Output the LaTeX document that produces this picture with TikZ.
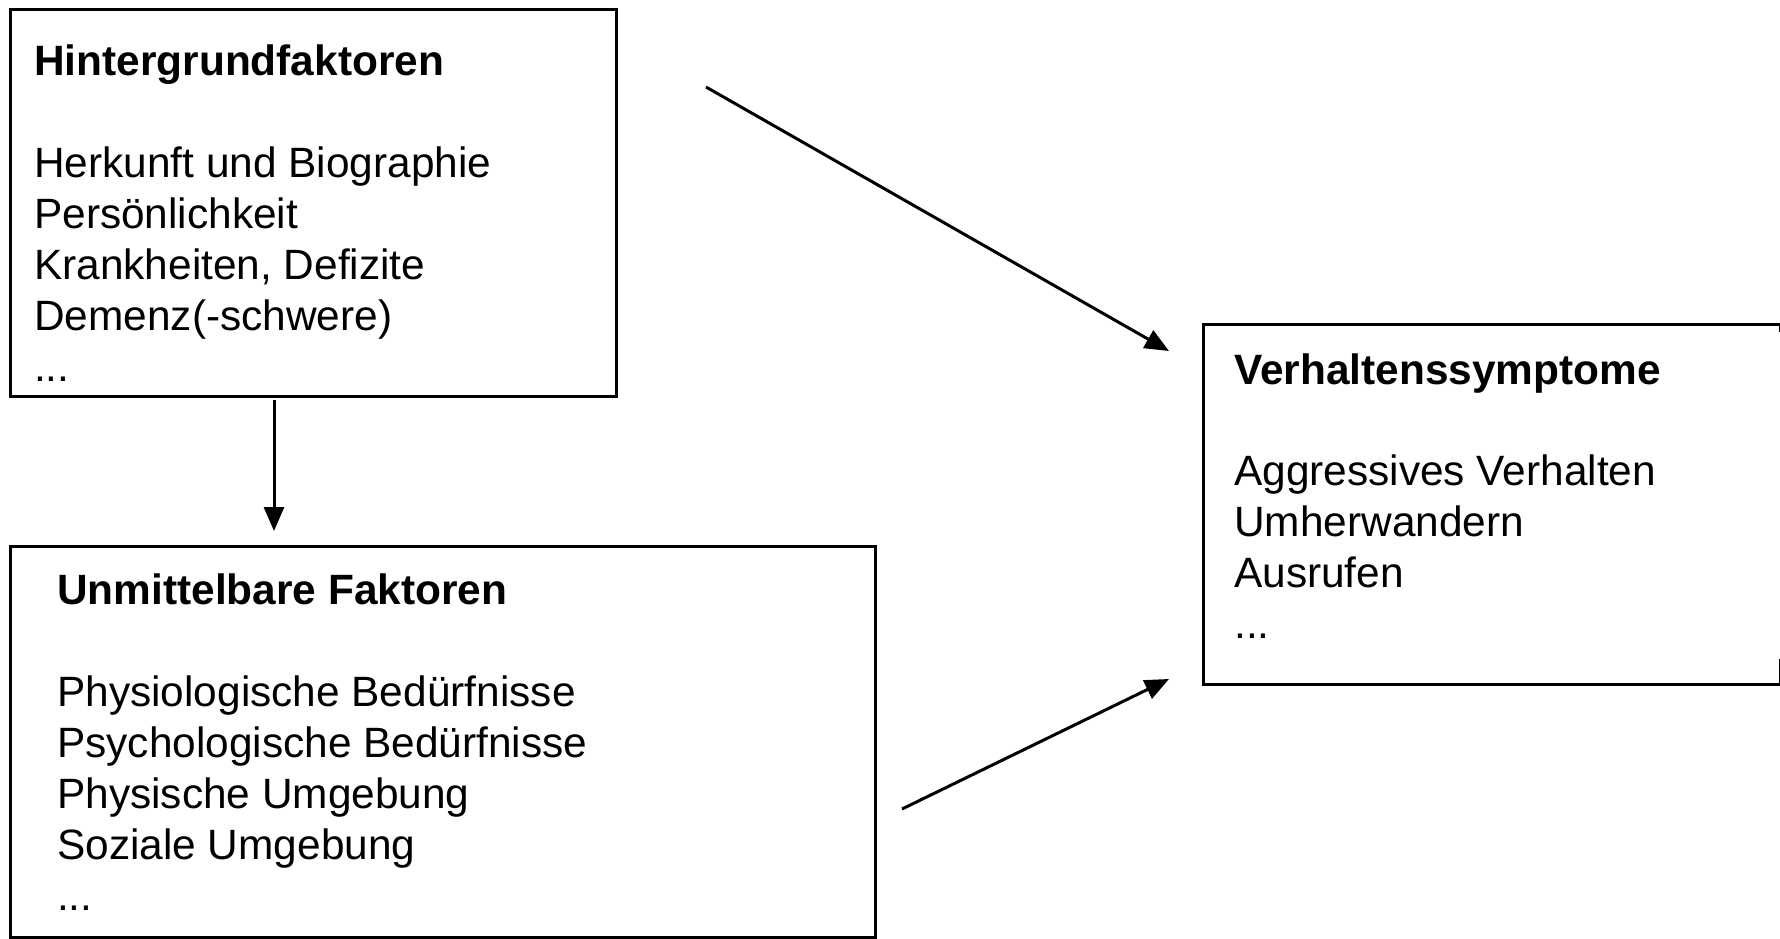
\documentclass[tikz,border=0pt]{standalone}
\usepackage{fontspec}
\setmainfont{Liberation Sans}
\usetikzlibrary{arrows.meta}
\begin{document}
\begin{tikzpicture}[x=1pt,y=-1pt,
  box/.style={draw=black, line width=3pt, inner sep=0pt, anchor=north west},
  txt/.style={anchor=base west, inner sep=0pt, font=\fontsize{42.4}{51}\selectfont},
  ttl/.style={anchor=base west, inner sep=0pt, font=\fontsize{42.4}{51}\selectfont\bfseries},
  conn/.style={line width=3pt, -{Triangle[length=24pt,width=20pt]}}]
\useasboundingbox (0,0) rectangle (1780,938);
% boxes
\node[box, minimum width=606pt, minimum height=387pt] (hg) at (9,8) {};
\node[box, minimum width=865pt, minimum height=391pt] (um) at (9,545) {};
\node[box, draw=none, minimum width=574pt, minimum height=357pt] (vs) at (1203,324) {};
\draw[line width=3pt, line join=miter] ([yshift=-8pt]vs.north east) -- (vs.north east) -- (vs.north west) -- (vs.south west) -- (vs.south east) -- ([yshift=25pt]vs.south east);
% texts box 1
\node[ttl] (hgt) at (34,75) {Hintergrundfaktoren};
\node[txt] (hg1) at (34,177) {Herkunft und Biographie};
\node[txt] (hg2) at (34,228) {Persönlichkeit};
\node[txt] (hg3) at (34,279) {Krankheiten, Defizite};
\node[txt] (hg4) at (34,330) {Demenz(-schwere)};
\node[txt] (hg5) at (34,381) {...};
% texts box 2
\node[ttl] (umt) at (57,604) {Unmittelbare Faktoren};
\node[txt] (um1) at (57,706) {Physiologische Bedürfnisse};
\node[txt] (um2) at (57,757) {Psychologische Bedürfnisse};
\node[txt] (um3) at (57,808) {Physische Umgebung};
\node[txt] (um4) at (57,859) {Soziale Umgebung};
\node[txt] (um5) at (57,910) {...};
% texts box 3
\node[ttl] (vst) at (1234,384) {Verhaltenssymptome};
\node[txt] (vs1) at (1234,485) {Aggressives Verhalten};
\node[txt] (vs2) at (1234,536) {Umherwandern};
\node[txt] (vs3) at (1234,587) {Ausrufen};
\node[txt] (vs4) at (1234,638) {...};
% connectors
\coordinate (v1) at (274,400);
\coordinate (v2) at (274,531);
\coordinate (a1) at (706,87);
\coordinate (a1e) at (1169,351);
\coordinate (a2) at (902,809);
\coordinate (a2e) at (1169,679);
\draw[conn] (v1) -- (v2);
\draw[conn] (a1) -- (a1e);
\draw[conn] (a2) -- (a2e);
\end{tikzpicture}
\end{document}
